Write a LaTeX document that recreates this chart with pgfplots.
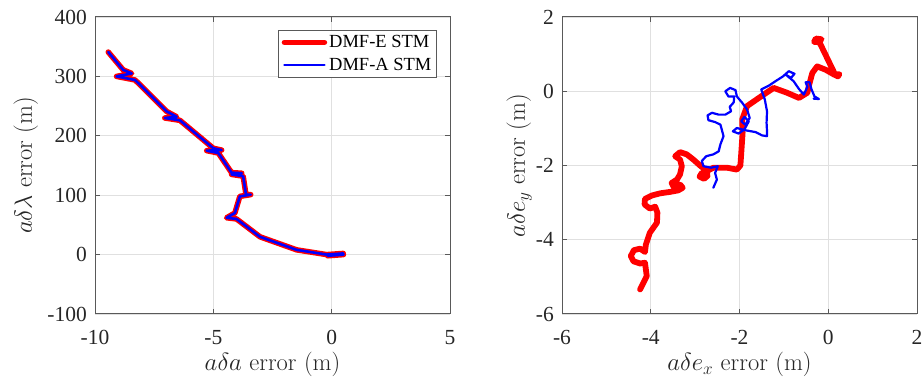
\documentclass[border=0pt]{standalone}
\usepackage{fontspec}
\newfontfamily\timesfont{Liberation Serif}
\usepackage{pgfplots}
\usepackage{pgfplotstable}
\pgfplotsset{compat=1.18}
\definecolor{axcol}{rgb}{0.15,0.15,0.15}
\definecolor{axline}{rgb}{0.35,0.35,0.35}

\pgfplotstableread{
x y
-9.44 341
-8.81 311
-8.45 305
-9.09 300
-8.31 294
-8.10 286
-6.97 241
-6.55 232
-7.05 230
-6.41 226
-5.00 179
-4.65 176
-5.28 175
-4.79 171
-4.23 138
-3.80 137
-4.23 135
-3.74 132
-3.62 101
-3.42 101
-3.88 98
-4.09 70
-4.44 62
-4.02 60
-3.03 30
-2.75 26
-1.48 8
-0.21 0
0.49 2
-0.17 -2
0.50 0
}\leftdata

\pgfplotstableread{
x y
-4.24 -5.34
-4.09 -4.98
-4.13 -4.62
-4.24 -4.64
-4.39 -4.58
-4.45 -4.44
-4.38 -4.28
-4.24 -4.24
-4.13 -4.33
-4.11 -4.13
-4.02 -3.81
-3.86 -3.54
-3.85 -3.27
-3.90 -3.11
-4.02 -3.16
-4.14 -3.05
-4.13 -2.90
-3.98 -2.81
-3.79 -2.75
-3.56 -2.71
-3.38 -2.67
-3.28 -2.60
-3.34 -2.51
-3.49 -2.56
-3.53 -2.47
-3.41 -2.38
-3.34 -2.24
-3.30 -2.02
-3.34 -1.84
-3.45 -1.75
-3.34 -1.64
-3.19 -1.70
-3.04 -1.84
-2.89 -2.00
-2.77 -2.11
-2.72 -2.20
-2.85 -2.20
-2.90 -2.30
-2.80 -2.36
-2.72 -2.28
-2.78 -2.18
-2.59 -2.06
-2.28 -2.06
-2.06 -2.11
-1.98 -2.00
-1.96 -1.66
-1.93 -1.12
-1.94 -0.76
-1.83 -0.40
-1.60 -0.21
-1.38 -0.03
-1.23 0.09
-0.93 -0.04
-0.66 -0.18
-0.47 -0.04
-0.44 0.13
-0.36 0.49
-0.25 0.67
-0.06 0.58
0.13 0.45
0.22 0.40
0.25 0.46
0.15 0.46
-0.21 1.35
-0.15 1.40
-0.28 1.42
-0.32 1.33
-0.20 1.32
}\redright

\pgfplotstableread{
x y
-2.59 -2.60
-2.51 -2.38
-2.55 -2.20
-2.49 -2.02
-2.64 -2.06
-2.81 -2.02
-2.85 -1.88
-2.75 -1.75
-2.59 -1.70
-2.47 -1.62
-2.43 -1.43
-2.36 -1.21
-2.40 -1.03
-2.43 -0.90
-2.55 -0.83
-2.70 -0.78
-2.72 -0.65
-2.62 -0.58
-2.47 -0.63
-2.32 -0.63
-2.19 -0.54
-2.22 -0.42
-2.13 -0.30
-2.12 -0.14
-2.25 -0.14
-2.32 0.00
-2.21 0.09
-2.09 0.03
-2.06 -0.14
-1.94 -0.31
-1.83 -0.49
-1.77 -0.72
-1.87 -0.90
-1.96 -0.81
-1.89 -0.69
-1.79 -0.81
-1.89 -1.03
-2.02 -1.14
-2.15 -1.08
-2.06 -0.99
-1.87 -1.05
-1.64 -1.10
-1.49 -1.19
-1.38 -1.21
-1.38 -1.08
-1.39 -0.85
-1.38 -0.54
-1.43 -0.22
-1.51 0.05
-1.34 0.15
-1.19 0.27
-1.02 0.40
-0.89 0.54
-0.76 0.47
-0.84 0.36
-0.96 0.45
-0.78 0.27
-0.66 0.06
-0.55 -0.09
-0.47 0.12
-0.51 0.24
-0.42 0.24
-0.38 0.06
-0.31 -0.14
-0.21 -0.21
-0.33 -0.20
}\blueright

\pgfplotsset{
  mystyle/.style={
    scale only axis, width=355pt, height=297pt,
    axis line style={draw=axline, line width=1pt},
    every tick/.style={draw=axline, line width=1pt},
    major tick length=5pt,
    tick align=inside,
    grid=major, grid style={draw=black!12, line width=0.7pt},
    ticklabel style={font=\timesfont\fontsize{21.5}{21.5}\selectfont, text=axcol},
    xticklabel style={anchor=base, inner sep=0pt, yshift=-31pt},
    yticklabel style={anchor=east, inner sep=0pt, xshift=-8pt},
    label style={font=\fontsize{24.5}{24.5}\selectfont, text=axcol},
    xlabel style={at={(axis description cs:0.5,-0.1919)}, anchor=base},
    legend image code/.code={\draw[##1] (0pt,0pt) -- (40pt,0pt);},
  }
}

\begin{document}
\begin{tikzpicture}
\useasboundingbox (0pt,0pt) rectangle (923pt,377pt);
\begin{axis}[mystyle,
  at={(95pt,63pt)}, anchor=south west,
  xmin=-10, xmax=5, ymin=-100, ymax=400,
  xtick={-10,-5,0,5}, xticklabels={-10,-5,0,5},
  ytick={-100,0,100,200,300,400}, yticklabels={-100,0,100,200,300,400},
  xlabel={$a\delta a$ error (m)},
  ylabel={$a\delta\lambda$ error (m)},
  ylabel style={at={(axis description cs:-0.1775,0.5)}, anchor=base},
  legend style={at={(0.963,0.956)}, anchor=north east,
    font=\timesfont\fontsize{18.5}{18.5}\selectfont, draw=axline, line width=0.8pt,
    row sep=5pt, inner xsep=3pt, inner ysep=3pt},
  legend cell align=left,
]
\addplot[red, line width=5.5pt, line join=round, line cap=round] table[x=x,y=y] {\leftdata};
\addlegendentry{DMF-E STM}
\addplot[blue, line width=2.6pt, line join=round, line cap=round] table[x=x,y=y] {\leftdata};
\addlegendentry{DMF-A STM}
\end{axis}

\begin{axis}[mystyle,
  at={(562pt,63pt)}, anchor=south west,
  xmin=-6, xmax=2, ymin=-6, ymax=2,
  xtick={-6,-4,-2,0,2}, xticklabels={-6,-4,-2,0,2},
  ytick={-6,-4,-2,0,2}, yticklabels={-6,-4,-2,0,2},
  xlabel={$a\delta e_x$ error (m)},
  ylabel={$a\delta e_y$ error (m)},
  ylabel style={at={(axis description cs:-0.1045,0.5)}, anchor=base},
]
\addplot[red, line width=5.8pt, line join=round, line cap=round] table[x=x,y=y] {\redright};
\addplot[blue, line width=2.2pt, line join=round, line cap=round] table[x=x,y=y] {\blueright};
\end{axis}
\end{tikzpicture}
\end{document}
